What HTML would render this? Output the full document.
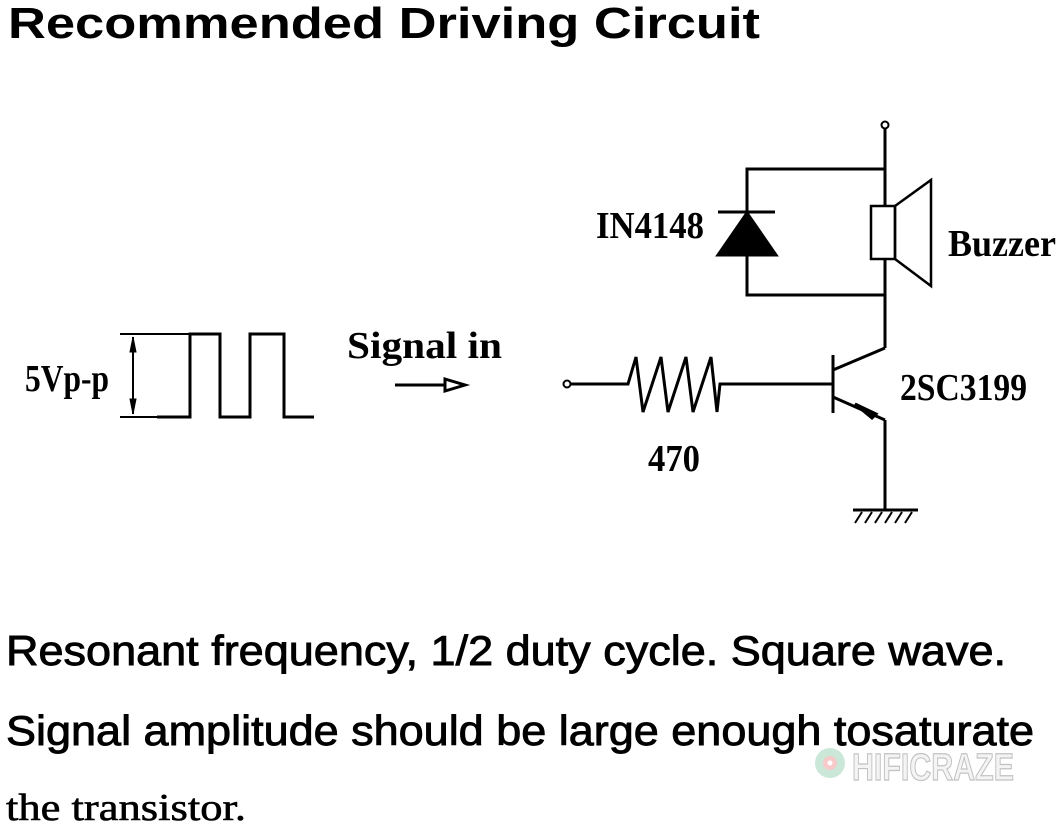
<!DOCTYPE html>
<html><head><meta charset="utf-8"><style>
html,body{margin:0;padding:0;background:#fff;}
svg{display:block;}
</style></head><body>
<svg width="1061" height="828" viewBox="0 0 1061 828" xmlns="http://www.w3.org/2000/svg">
<g font-family="Liberation Sans, Arial, sans-serif" font-weight="bold" fill="#000">
<text x="8" y="38" font-size="44" textLength="752" lengthAdjust="spacingAndGlyphs">Recommended Driving Circuit</text>
</g>
<g font-family="Liberation Sans, Arial, sans-serif" fill="#000" stroke="#000" stroke-width="0.9" font-size="42">
<text x="6" y="665" textLength="1000" lengthAdjust="spacingAndGlyphs">Resonant frequency, 1/2 duty cycle. Square wave.</text>
<text x="6" y="745" textLength="1028" lengthAdjust="spacingAndGlyphs">Signal amplitude should be large enough tosaturate</text>
</g>
<text x="6" y="820" font-family="Liberation Serif, serif" font-size="38" stroke="#000" stroke-width="0.6" textLength="240" lengthAdjust="spacingAndGlyphs" fill="#000">the transistor.</text>

<g font-family="Liberation Serif, serif" font-weight="bold" fill="#000" font-size="38">
<text x="25" y="391" textLength="84" lengthAdjust="spacingAndGlyphs">5Vp-p</text>
<text x="347" y="358" textLength="155" lengthAdjust="spacingAndGlyphs">Signal in</text>
<text x="596" y="238" textLength="108" lengthAdjust="spacingAndGlyphs">IN4148</text>
<text x="948" y="256" textLength="108" lengthAdjust="spacingAndGlyphs">Buzzer</text>
<text x="900" y="400" textLength="127" lengthAdjust="spacingAndGlyphs">2SC3199</text>
<text x="648" y="471" textLength="52" lengthAdjust="spacingAndGlyphs">470</text>
</g>

<g stroke="#000" stroke-width="3" fill="none">
<line x1="120" y1="334" x2="220" y2="334" stroke-width="2"/>
<line x1="120" y1="417" x2="157" y2="417" stroke-width="2"/>
<polyline points="157,417 190,417 190,334 220,334 220,417 250,417 250,334 284,334 284,417 314,417"/>
<line x1="133" y1="337" x2="133" y2="414" stroke-width="2"/>
<polygon points="133,337 130,352 136,352" fill="#000" stroke-width="1"/>
<polygon points="133,414 130,399 136,399" fill="#000" stroke-width="1"/>
<line x1="395" y1="385" x2="445" y2="385"/>
<polygon points="445,379 465,385 445,391" fill="#fff"/>
<circle cx="567" cy="384" r="3.5" stroke-width="2"/>
<polyline points="571,384 628,384 636,357 643,412 661,357 668,412 686,357 693,412 711,357 717,412 720,384 833,384"/>
<line x1="833" y1="355" x2="833" y2="413"/>
<line x1="833" y1="370" x2="885" y2="348"/>
<line x1="833" y1="397" x2="885" y2="420"/>
<polygon points="855,404 876,414 872,418" fill="#000"/>
<line x1="885" y1="420" x2="885" y2="510"/>
<line x1="853" y1="510" x2="918" y2="510"/>
<g stroke-width="2">
<line x1="862" y1="512" x2="855" y2="523"/><line x1="872" y1="512" x2="865" y2="523"/>
<line x1="882" y1="512" x2="875" y2="523"/><line x1="892" y1="512" x2="885" y2="523"/>
<line x1="902" y1="512" x2="895" y2="523"/><line x1="912" y1="512" x2="905" y2="523"/>
</g>
<circle cx="885" cy="125" r="3.5" stroke-width="2"/>
<line x1="885" y1="129" x2="885" y2="206"/>
<line x1="885" y1="259" x2="885" y2="348"/>
<polyline points="885,169 747,169 747,295 885,295"/>
<line x1="718" y1="212" x2="775" y2="212"/>
<polygon points="747,213 718,255 776,255" fill="#000"/>
<rect x="871" y="206" width="24" height="53" stroke-width="2.5"/>
<polygon points="895,206 931,180 931,286 895,259" stroke-width="2.5"/>
</g>

<g opacity="0.6">
<circle cx="830" cy="763" r="15" fill="#a8d8bf"/>
<circle cx="830" cy="763" r="7" fill="#f2a7a7"/>
<circle cx="830" cy="763" r="2.5" fill="#fff"/>
<text x="852" y="780" font-family="Liberation Sans, sans-serif" font-weight="bold" font-size="38" fill="#eee" stroke="#999" stroke-width="1.2" textLength="162" lengthAdjust="spacingAndGlyphs">HIFICRAZE</text>
</g>
</svg>
</body></html>
